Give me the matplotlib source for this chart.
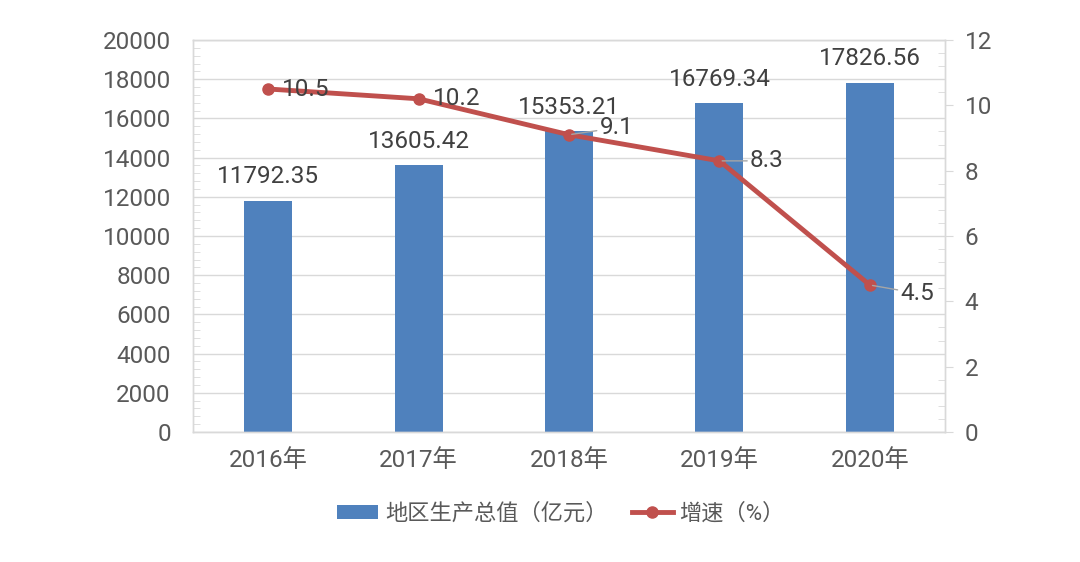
import matplotlib.pyplot as plt
from matplotlib.ticker import MultipleLocator

# 数据
years = ["2016年", "2017年", "2018年", "2019年", "2020年"]
gdp = [11792.35, 13605.42, 15353.21, 16769.34, 17826.56]
growth = [10.5, 10.2, 9.1, 8.3, 4.5]
gdp_labels = ["11792.35", "13605.42", "15353.21", "16769.34", "17826.56"]
growth_labels = ["10.5", "10.2", "9.1", "8.3", "4.5"]

plt.rcParams["font.family"] = ["Roboto", "Noto Sans CJK SC", "DejaVu Sans"]
plt.rcParams["font.size"] = 17.5

BLUE = "#4F81BD"
RED = "#C0504D"
TXT = "#404040"
TICK = "#595959"
GRID = "#D9D9D9"
FS = 17.5

fig = plt.figure(figsize=(10.8, 5.62), dpi=100)
ax = fig.add_axes([193 / 1080, 1 - 432 / 562, (945 - 193) / 1080, (432 - 40) / 562])
ax2 = ax.twinx()

x = list(range(len(years)))
ax.bar(x, gdp, width=0.32, color=BLUE, zorder=2, label="地区生产总值（亿元）")
ax.set_xlim(-0.5, 4.5)
ax.set_ylim(0, 20000)
ax.yaxis.set_major_locator(MultipleLocator(2000))
ax.yaxis.set_minor_locator(MultipleLocator(400))
ax.grid(axis="y", color=GRID, linewidth=1, zorder=0)
ax.set_axisbelow(True)

for xi, v, s in zip(x, gdp, gdp_labels):
    ax.annotate(s, (xi, v), xytext=(0, 9), textcoords="offset points",
                ha="center", va="bottom", color=TXT, fontsize=FS)

ax2.plot(x, growth, color=RED, linewidth=3.5, marker="o", markersize=8,
         zorder=3, label="增速（%）")
ax2.set_ylim(0, 12)
ax2.yaxis.set_major_locator(MultipleLocator(2))
ax2.yaxis.set_minor_locator(MultipleLocator(0.4))

# 增速标签（带引线）
offsets = [(10, 0), (10, 0), (22, 5), (22, 0), (22, -6)]
for xi, v, s, (dx, dy) in zip(x, growth, growth_labels, offsets):
    if dx > 15:
        ax2.annotate(s, (xi, v), xytext=(dx, dy), textcoords="offset points",
                     ha="left", va="center", color=TXT, fontsize=FS,
                     arrowprops=dict(arrowstyle="-", color="#A6A6A6", lw=1,
                                     shrinkA=0, shrinkB=2), zorder=4)
    else:
        ax2.annotate(s, (xi, v), xytext=(dx, dy), textcoords="offset points",
                     ha="left", va="center", color=TXT, fontsize=FS, zorder=4)

for a in (ax, ax2):
    for sp in a.spines.values():
        sp.set_color(GRID)
        sp.set_linewidth(1)
    a.tick_params(colors=TICK, labelsize=FS)

ax.set_xticks(x)
ax.set_xticklabels(years)
ax.tick_params(axis="x", length=0, pad=12)
ax.tick_params(axis="y", which="major", length=0, pad=16)
ax.tick_params(axis="y", which="minor", direction="in", length=5, color=GRID)
ax2.tick_params(axis="y", which="major", direction="out", length=6, color=GRID, pad=8)
ax2.tick_params(axis="y", which="minor", direction="in", length=5, color=GRID)

h1, l1 = ax.get_legend_handles_labels()
h2, l2 = ax2.get_legend_handles_labels()
fig.legend(h1 + h2, l1 + l2, loc="center", bbox_to_anchor=(561 / 1080, 1 - 514 / 562),
           ncol=2, frameon=False, fontsize=16, labelcolor=TICK,
           handlelength=1.85, handleheight=0.55, columnspacing=1.1, handletextpad=0.3)

fig.savefig("out.png", dpi=100)
